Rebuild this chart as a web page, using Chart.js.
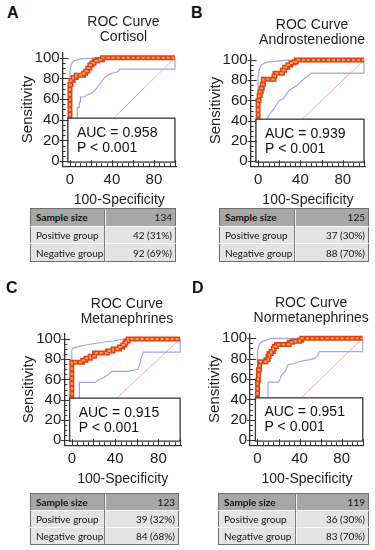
<!DOCTYPE html>
<html>
<head>
<meta charset="utf-8">
<title>ROC curves</title>
<script src="https://cdn.jsdelivr.net/npm/chart.js@4.4.0/dist/chart.umd.min.js"></script>
<style>
  body { margin: 0; background: #fff; }
  #page { position: relative; width: 375px; height: 550px; overflow: hidden; font-family: "Liberation Sans", Arial, sans-serif; }
  .letter { position: absolute; font-weight: bold; font-size: 16px; line-height: 16px; color: #111; }
  canvas { position: absolute; }
  table.groups { position: absolute; border-collapse: collapse; table-layout: fixed; font-family: Lato, "Liberation Sans", sans-serif; font-size: 10px; color: #141414; border: 1px solid #6e6e6e; }
  table.groups td { padding: 0 3px 0 5px; border-top: 1px solid #fbfbfb; background: #e3e3e3; white-space: nowrap; overflow: hidden; }
  table.groups tr:first-child td { background: #a7a7a7; border-top: none; }
  table.groups tr:first-child td:first-child { font-weight: bold; }
  table.groups td + td { text-align: right; border-left: 1px solid #7d7d7d; box-shadow: inset 1px 0 #f4f4f4; }
</style>
</head>
<body>
<div id="page"></div>
<script>
// panel texts
const panelLetters = ['A', 'B', 'C', 'D'];
const markerNames = ['Cortisol', 'Androstenedione', 'Metanephrines', 'Normetanephrines'];
const aucValues = ['0.958', '0.939', '0.915', '0.951'];
const pValues = ['< 0.001', '< 0.001', '< 0.001', '< 0.001'];
const sampleSizes = ['134', '125', '123', '119'];
const positiveGroups = ['42 (31%)', '37 (30%)', '39 (32%)', '36 (30%)'];
const negativeGroups = ['92 (69%)', '88 (70%)', '84 (68%)', '83 (70%)'];

const xTickLabels = [0, 40, 80];
const yTickLabels = [0, 20, 40, 60, 80, 100];

// [100-Specificity, Sensitivity]
const diagonal = [[0, 0], [100, 100]];

const cortisolRoc = [[0, 0], [0, 74], [1, 74], [1, 78], [3, 78], [3, 81], [6, 81], [6, 83], [13, 83], [13, 85], [15, 85], [15, 87], [17, 87], [17, 90], [19, 90], [19, 93], [21, 93], [21, 95], [23, 95], [23, 97], [26, 97], [26, 98], [31, 98], [31, 100], [100, 100]];
const cortisolUpper = [[0, 30], [0, 86], [0.5, 90], [1, 93], [2, 95], [4, 97], [7, 98], [11, 99], [18, 99.5], [25, 100], [100, 100]];
const cortisolLower = [[7, 35], [7, 52], [9, 52], [9, 57], [10, 57], [10, 62], [14, 62], [16, 64], [19, 65], [21, 66], [23, 68], [25, 70], [27, 73], [29, 75], [31, 78], [33, 81], [36, 83], [40, 85], [44, 86], [46, 87], [47, 89], [100, 89], [100, 100]];

const androRoc = [[0, 0], [0, 60], [1, 60], [1, 65], [2, 65], [2, 69], [3, 69], [3, 72], [4, 72], [4, 76], [5, 76], [5, 81], [15, 81], [15, 84], [16, 84], [16, 87], [23, 87], [23, 90], [25, 90], [25, 93], [28, 93], [28, 95], [31, 95], [31, 97], [34, 97], [34, 98], [36, 98], [36, 100], [100, 100]];
const androUpper = [[0, 30], [0, 83], [1, 90], [2, 93], [3, 95], [6, 97], [9, 98], [18, 99], [28, 100], [100, 100]];
const androLower = [[9, 35], [9, 41], [10, 45], [15, 52], [17, 55], [18, 57], [20, 60], [24, 62], [26, 65], [28, 68], [29, 70], [34, 73], [37, 75], [40, 78], [43, 81], [48, 85], [50, 87], [100, 87], [100, 100]];

const metaRoc = [[0, 0], [0, 77], [10, 77], [10, 79], [13, 79], [13, 81], [17, 81], [17, 83], [21, 83], [21, 86], [33, 86], [33, 88], [38, 88], [38, 90], [44, 90], [44, 92], [47, 92], [47, 94], [49, 94], [49, 96], [50, 96], [50, 98], [52, 98], [52, 100], [100, 100]];
const metaUpper = [[0, 30], [0, 89], [1, 91], [4, 92], [8, 93], [13, 94], [18, 95], [24, 96], [30, 97], [38, 98], [44, 99], [50, 100], [100, 100]];
const metaLower = [[7, 35], [7, 57], [21, 57], [23, 58], [25, 60], [28, 61], [31, 63], [34, 65], [37, 68], [52, 68], [56, 69], [61, 70], [63, 76], [64, 81], [66, 87], [100, 87], [100, 100]];

const normetaRoc = [[0, 0], [0, 58], [0.5, 58], [0.5, 63], [1, 63], [1, 69], [2, 69], [2, 77], [8, 77], [8, 79], [10, 79], [10, 82], [11, 82], [11, 85], [13, 85], [13, 87], [15, 87], [15, 90], [16, 90], [16, 92], [18, 92], [18, 94], [30, 94], [30, 96], [33, 96], [33, 97], [40, 97], [40, 98], [42, 98], [42, 100], [100, 100]];
const normetaUpper = [[0, 30], [0, 86], [0.5, 90], [1, 92], [2, 94], [3, 96], [5, 97], [8, 98], [13, 100], [100, 100]];
const normetaLower = [[10, 35], [10, 57], [20, 57], [21, 59], [23, 64], [26, 67], [29, 74], [34, 75], [39, 77], [50, 79], [54, 80], [57, 83], [59, 87], [100, 87], [100, 100]];

const curves = [
  { roc: cortisolRoc, upper: cortisolUpper, lower: cortisolLower },
  { roc: androRoc, upper: androUpper, lower: androLower },
  { roc: metaRoc, upper: metaUpper, lower: metaLower },
  { roc: normetaRoc, upper: normetaUpper, lower: normetaLower }
];

// where things sit on the page
const panelLayout = [
  { letter: [7, 5], canvas: [0, 0, 187, 211], padding: { left: 13.6, top: 52.6, right: 11, bottom: 0 }, table: [30, 208, 146, 54, 74] },
  { letter: [191, 5], canvas: [187, 0, 188, 211], padding: { left: 14.6, top: 55, right: 9.9, bottom: 0 }, table: [219, 208, 150, 54, 75] },
  { letter: [6, 280], canvas: [0, 281, 187, 209.5], padding: { left: 15.2, top: 52.9, right: 5.8, bottom: 0 }, table: [30, 493, 149, 52, 74] },
  { letter: [192, 280], canvas: [187, 281, 188, 209.7], padding: { left: 14.1, top: 52.2, right: 11.2, bottom: 0 }, table: [218, 493, 151, 52, 77] }
];

const axisColor = '#333';
const statsBox = { x0: -2, x1: 100, y0: -1, y1: 41.5 };

Chart.defaults.font.family = '"Liberation Sans", Arial, sans-serif';
Chart.defaults.color = '#1e1e1e';

const toPoints = pairs => pairs.map(([x, y]) => ({ x, y }));

const rocExtras = {
  id: 'rocExtras',
  afterDatasetsDraw(chart, args, opts) {
    const { ctx, scales: { x, y } } = chart;
    const left = x.getPixelForValue(statsBox.x0);
    const right = x.getPixelForValue(statsBox.x1);
    const top = y.getPixelForValue(statsBox.y1);
    const bottom = y.getPixelForValue(statsBox.y0);
    ctx.save();
    ctx.fillStyle = '#fff';
    ctx.fillRect(left, top, right - left, bottom - top);
    ctx.strokeStyle = '#3a3a3a';
    ctx.lineWidth = 1.3;
    ctx.strokeRect(left, top, right - left, bottom - top);
    ctx.fillStyle = '#111';
    ctx.font = '14px "Liberation Sans", Arial, sans-serif';
    ctx.textAlign = 'left';
    ctx.textBaseline = 'alphabetic';
    ctx.fillText('AUC = ' + opts.auc, left + 9, top + 18.5);
    ctx.fillText('P ' + opts.p, left + 9, top + 33.5);
    ctx.restore();
  },
  afterDraw(chart, args, opts) {
    const { ctx, chartArea, scales: { x, y } } = chart;
    ctx.save();
    // two-line title centred over the data range
    ctx.fillStyle = '#1e1e1e';
    ctx.font = '14px "Liberation Sans", Arial, sans-serif';
    ctx.textAlign = 'center';
    ctx.textBaseline = 'middle';
    const cx = x.getPixelForValue(50) + 1;
    ctx.fillText('ROC Curve', cx, chartArea.top - 30);
    ctx.fillText(opts.name, cx, chartArea.top - 15);

    // inward tick marks, long ones every 20
    ctx.strokeStyle = axisColor;
    ctx.lineWidth = 1;
    ctx.beginPath();
    for (let v = 0; v <= 100; v += 5) {
      const major = v % 20 === 0;
      const py = Math.round(y.getPixelForValue(v)) + 0.5;
      ctx.moveTo(chartArea.left - (major ? 3 : 0), py);
      ctx.lineTo(chartArea.left + (major ? 6 : 3), py);
      const px = Math.round(x.getPixelForValue(v)) + 0.5;
      ctx.moveTo(px, chartArea.bottom);
      ctx.lineTo(px, chartArea.bottom - (major ? 6 : 3));
    }
    ctx.stroke();
    ctx.restore();
  }
};

function drawRoc(canvas, i, padding) {
  const c = curves[i];
  const boundStyle = { borderColor: '#a3a3ea', borderWidth: 1.2, pointRadius: 0, tension: 0 };
  return new Chart(canvas.getContext('2d'), {
    type: 'line',
    data: {
      datasets: [
        { data: toPoints(c.roc), borderColor: '#f8a640', borderWidth: 2, borderDash: [3, 2], pointRadius: 0, borderJoinStyle: 'miter' },
        { data: toPoints(c.roc), borderColor: '#e2401c', borderWidth: 5, pointRadius: 0, borderJoinStyle: 'miter' },
        { data: toPoints(c.upper), ...boundStyle },
        { data: toPoints(c.lower), ...boundStyle },
        { data: toPoints(diagonal), borderColor: '#eba5a5', borderWidth: 0.9, pointRadius: 0 }
      ]
    },
    options: {
      responsive: false,
      animation: false,
      layout: { padding },
      plugins: {
        legend: { display: false },
        tooltip: { enabled: false },
        rocExtras: { name: markerNames[i], auc: aucValues[i], p: pValues[i] }
      },
      scales: {
        x: {
          type: 'linear',
          min: -7,
          max: 101,
          grid: { display: false, drawTicks: false },
          border: { color: axisColor, width: 1.3 },
          afterBuildTicks: s => { s.ticks = xTickLabels.map(v => ({ value: v })); },
          ticks: { padding: 5, color: '#1e1e1e', font: { size: 15 } },
          title: { display: true, text: '100-Specificity', color: '#1e1e1e', font: { size: 14 }, padding: { top: -2, bottom: 2 } }
        },
        y: {
          type: 'linear',
          min: -5,
          max: 105,
          grid: { display: false, drawTicks: false },
          border: { color: axisColor, width: 1.3 },
          afterBuildTicks: s => { s.ticks = yTickLabels.map(v => ({ value: v })); },
          ticks: { padding: 3, color: '#1e1e1e', font: { size: 15 } },
          title: { display: true, text: 'Sensitivity', color: '#1e1e1e', font: { size: 15 }, padding: { top: 5, bottom: -5 } }
        }
      }
    },
    plugins: [rocExtras]
  });
}

const page = document.getElementById('page');

panelLayout.forEach((lay, i) => {
  const letter = document.createElement('div');
  letter.className = 'letter';
  letter.textContent = panelLetters[i];
  letter.style.left = lay.letter[0] + 'px';
  letter.style.top = lay.letter[1] + 'px';
  page.appendChild(letter);

  const canvas = document.createElement('canvas');
  const [cl, ct, cw, ch] = lay.canvas;
  canvas.width = cw;
  canvas.height = ch;
  canvas.style.left = cl + 'px';
  canvas.style.top = ct + 'px';
  page.appendChild(canvas);

  const [tl, tt, tw, th, col] = lay.table;
  const table = document.createElement('table');
  table.className = 'groups';
  table.style.cssText = `left:${tl}px;top:${tt}px;width:${tw}px;height:${th}px;`;
  table.innerHTML = `
    <colgroup><col style="width:${col}px"><col></colgroup>
    <tr><td>Sample size</td><td>${sampleSizes[i]}</td></tr>
    <tr><td>Positive group</td><td>${positiveGroups[i]}</td></tr>
    <tr><td>Negative group</td><td>${negativeGroups[i]}</td></tr>
  `;
  page.appendChild(table);

  drawRoc(canvas, i, lay.padding);
});
</script>
</body>
</html>
